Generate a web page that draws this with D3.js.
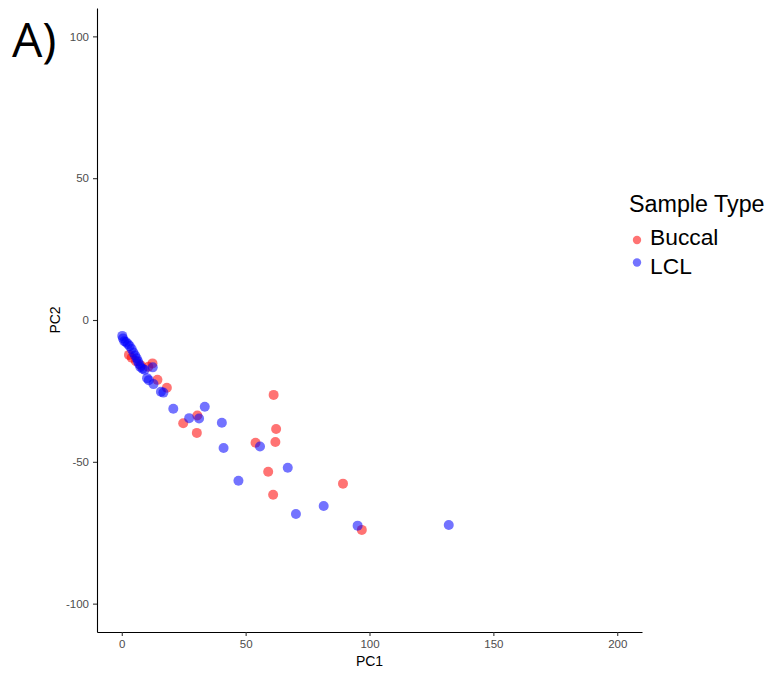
<!DOCTYPE html>
<html><head><meta charset="utf-8">
<script src="https://cdn.jsdelivr.net/npm/d3@7"></script>
<style>body{margin:0;background:#fff;}svg{display:block;font-family:"Liberation Sans",Arial,sans-serif;}</style>
</head><body>
<svg id="chart" width="771" height="673"></svg>
<script>
const seriesNames = ["Buccal", "LCL"];
const colors = ["#FF0000", "#0000FF"];
const xTicks = [0, 50, 100, 150, 200];
const yTicks = [-100, -50, 0, 50, 100];
const buccal = [[61.3,-26.4],[62.3,-38.4],[62.0,-43.0],[54.0,-43.3],[59.1,-53.5],[61.1,-61.6],[89.3,-57.7],[96.9,-74.0],[24.8,-36.4],[30.3,-39.8],[30.5,-33.7],[18.2,-23.9],[14.4,-21.1],[12.4,-15.3],[2.9,-12.3],[4.0,-13.3],[5.7,-14.5],[7.7,-16.0],[10.7,-16.5]];
const lcl = [[0.2,-5.6],[0.5,-6.5],[1.0,-7.5],[1.7,-7.8],[2.5,-8.5],[3.2,-9.2],[4.0,-10.2],[4.7,-11.5],[5.4,-12.5],[6.0,-13.5],[6.5,-14.5],[7.0,-15.5],[7.5,-16.6],[8.4,-17.2],[9.2,-17.5],[12.5,-16.7],[10.2,-20.5],[10.9,-21.2],[12.8,-22.6],[15.8,-25.3],[16.8,-25.6],[20.8,-31.3],[27.2,-34.6],[31.2,-34.7],[33.5,-30.6],[40.4,-36.2],[41.1,-45.1],[47.1,-56.7],[55.8,-44.6],[67.0,-52.1],[70.3,-68.4],[81.5,-65.6],[95.2,-72.5],[132.0,-72.3]];
const seriesData = [buccal, lcl];

const svg = d3.select("#chart");
const L = 97, R = 642, T = 8, B = 632;
const x = d3.scaleLinear().domain([-10, 210]).range([L, R]);
const y = d3.scaleLinear().domain([-110, 110]).range([B, T]);

const xAxis = svg.append("g").attr("transform", `translate(0,${B})`)
  .call(d3.axisBottom(x).tickValues(xTicks).tickFormat(d => String(d)).tickSize(4).tickSizeOuter(0).tickPadding(4));
const yAxis = svg.append("g").attr("transform", `translate(${L},0)`)
  .call(d3.axisLeft(y).tickValues(yTicks).tickFormat(d => String(d)).tickSize(4).tickSizeOuter(0).tickPadding(4));
[xAxis, yAxis].forEach(g => {
  g.select(".domain").attr("stroke", "#000").attr("stroke-width", 1.1);
  g.selectAll(".tick line").attr("stroke", "#333").attr("stroke-width", 1.1);
  g.selectAll(".tick text").attr("fill", "#4D4D4D").attr("font-size", 11.5)
    .attr("font-family", '"Liberation Sans",Arial,sans-serif');
});

svg.append("text").attr("x", (L + R) / 2).attr("y", 666).attr("text-anchor", "middle")
  .attr("font-size", 14).attr("fill", "#000").text("PC1");
svg.append("text").attr("transform", `translate(60,${(T + B) / 2}) rotate(-90)`)
  .attr("text-anchor", "middle").attr("font-size", 14).attr("fill", "#000").text("PC2");

seriesData.forEach((data, i) => {
  svg.append("g").selectAll("circle").data(data).join("circle")
    .attr("cx", d => x(d[0])).attr("cy", d => y(d[1])).attr("r", 5)
    .attr("fill", colors[i]).attr("fill-opacity", 0.55);
});

svg.append("text").attr("x", 629).attr("y", 212).attr("font-size", 23.3).attr("fill", "#000").text("Sample Type");
const legY = [240, 262.5], legTextY = [244.5, 274];
seriesNames.forEach((n, i) => {
  svg.append("circle").attr("cx", 637).attr("cy", legY[i]).attr("r", 4.2)
    .attr("fill", colors[i]).attr("fill-opacity", 0.55);
  svg.append("text").attr("x", 650).attr("y", legTextY[i]).attr("font-size", 22.8).attr("fill", "#000").text(n);
});

svg.append("text").attr("x", 12).attr("y", 57).attr("font-size", 48)
  .attr("font-family", '"Open Sans",sans-serif').attr("fill", "#000").text("A)");
</script>
</body></html>
